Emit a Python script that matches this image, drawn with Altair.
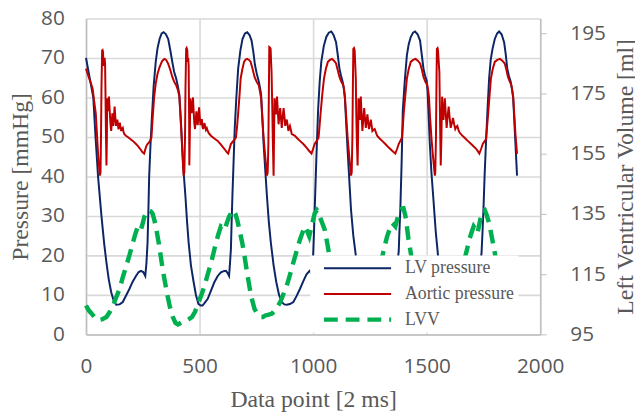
import altair as alt
import pandas as pd

# ---------------- data ----------------
series_names = ["LV pressure", "Aortic pressure", "LVV"]
series_colors = ["#0b2565", "#c00000", "#00b050"]

x_ticks = [0, 500, 1000, 1500, 2000]
p_ticks = [0, 10, 20, 30, 40, 50, 60, 70, 80]
v_ticks = [95, 115, 135, 155, 175, 195]

lv_x = [0, 16, 32, 42, 53, 68, 80, 90, 100, 111, 122, 133, 148, 162, 176, 191, 205, 220, 232, 242,
        252, 261, 266, 271, 275, 278, 284, 290, 298, 307, 315, 324, 333, 342, 352, 362, 371, 380, 388, 397,
        404, 411, 417, 423, 430, 438, 445, 452, 462, 474, 484, 495, 505, 513, 520, 536, 550, 565, 580, 594,
        606, 616, 623, 630, 634, 638, 641, 645, 650, 655, 662, 670, 680, 689, 700, 710, 720, 729, 737, 744,
        752, 761, 767, 771, 777, 782, 790, 797, 805, 814, 826, 838, 850, 862, 873, 884, 898, 913, 927, 942,
        957, 971, 985, 992, 996, 1000, 1004, 1007, 1014, 1022, 1029, 1036, 1047, 1058, 1069, 1080, 1090, 1101, 1108, 1116,
        1123, 1130, 1135, 1140, 1146, 1152, 1160, 1167, 1177, 1188, 1200, 1212, 1224, 1236, 1248, 1262, 1276, 1290, 1305, 1320,
        1335, 1350, 1360, 1366, 1371, 1377, 1380, 1384, 1390, 1395, 1404, 1413, 1421, 1430, 1440, 1449, 1460, 1471, 1478, 1486,
        1493, 1500, 1504, 1509, 1514, 1521, 1529, 1540, 1550, 1562, 1574, 1586, 1598, 1610, 1624, 1638, 1652, 1667, 1682, 1697,
        1712, 1726, 1733, 1738, 1742, 1746, 1750, 1755, 1761, 1768, 1775, 1782, 1790, 1800, 1810, 1819, 1830, 1841, 1848, 1855,
        1862, 1870, 1876, 1881, 1886, 1891, 1898]
lv_p = [70, 65, 60, 50, 40, 30, 23, 18.2, 14, 10.7, 8.5, 7.5, 7.6, 8.2, 9.8, 11.5, 13.3, 14.8, 15.8, 16.1,
        15.8, 14.8, 18, 23.2, 32, 39.8, 48, 54.8, 63, 69, 72.5, 74.8, 76.2, 76.5, 76, 74.8, 72, 69, 66.5, 64.8,
        63, 60.7, 55, 48.2, 41, 34.8, 28.5, 23.2, 17.5, 13.2, 10, 7.75, 7.3, 7.3, 7.8, 9.0, 11, 13.2, 14.8, 15.7,
        16, 16.1, 15.6, 14.8, 18, 21.5, 28, 35.7, 44, 52.3, 60, 67.3, 72, 74.8, 76.2, 76.5, 75.8, 74.4, 71.5, 68.2,
        66, 64, 62.2, 60.7, 54.5, 48.2, 41, 34.8, 28.5, 23.2, 17.5, 13.2, 10, 8.2, 7.6, 7.5, 7.7, 8.2, 9.7, 11.5,
        13.5, 15.2, 16.1, 15.6, 14.8, 19.8, 26, 31.5, 44, 56.8, 64, 69, 73, 75.3, 76.4, 76.7, 75.8, 74, 71, 67.3,
        65.5, 64, 62.3, 59.8, 53, 46.5, 38.5, 31.5, 25, 20, 15.5, 12, 9.5, 8, 7.5, 7.6, 8.2, 9.7, 11.5, 13.5,
        15.2, 16.1, 15.8, 14.8, 18, 21, 26, 31.5, 44, 56.8, 64.5, 70.7, 73.5, 75.3, 76.4, 76.7, 76, 74.4, 71, 67.3,
        65.5, 64.3, 61.5, 55, 48.2, 41, 34.8, 26, 20, 15.5, 12, 9.5, 8, 7.5, 7.6, 8.2, 9.7, 11.5, 13.5, 15.2,
        16.1, 15.7, 14.8, 18, 21, 26, 31.5, 40, 48.2, 57, 64.8, 69.5, 72.3, 74.8, 76.2, 76.7, 76, 74, 71, 67.3,
        65.5, 64, 62, 59.8, 54, 48.2, 40.2]

ao_x = [0, 7, 14, 22, 29, 36, 43, 48, 53, 57, 61, 64, 66, 68, 71, 73, 75, 77, 79, 82,
        84, 86, 88, 90, 92, 93, 95, 97, 99, 101, 104, 107, 109, 111, 114, 116, 118, 120, 123, 126,
        129, 132, 135, 138, 141, 143, 146, 149, 152, 155, 158, 162, 165, 169, 176, 184, 195, 206, 217, 228,
        238, 249, 256, 261, 266, 272, 278, 284, 288, 291, 295, 300, 307, 315, 324, 335, 345, 353, 362, 371,
        380, 388, 397, 404, 411, 416, 420, 425, 430, 433, 436, 438, 441, 443, 446, 448, 450, 452, 454, 455,
        457, 459, 462, 465, 468, 471, 474, 477, 480, 483, 486, 489, 492, 495, 498, 501, 504, 507, 510, 513,
        516, 519, 522, 525, 528, 532, 536, 540, 550, 565, 580, 595, 609, 618, 626, 632, 638, 649, 660, 665,
        670, 676, 681, 688, 696, 703, 710, 718, 725, 733, 742, 751, 761, 766, 771, 777, 782, 790, 797, 800,
        803, 805, 807, 810, 813, 815, 817, 820, 823, 826, 828, 830, 833, 836, 838, 841, 845, 848, 851, 855,
        858, 862, 866, 870, 874, 877, 880, 884, 888, 891, 894, 898, 902, 906, 913, 920, 931, 942, 957, 971,
        982, 993, 1000, 1007, 1016, 1024, 1028, 1033, 1040, 1048, 1056, 1065, 1074, 1083, 1092, 1101, 1108, 1116, 1124, 1133,
        1137, 1140, 1146, 1152, 1160, 1167, 1170, 1173, 1175, 1177, 1180, 1183, 1185, 1188, 1190, 1193, 1196, 1198, 1200, 1203,
        1206, 1208, 1210, 1214, 1217, 1221, 1225, 1228, 1232, 1236, 1239, 1243, 1246, 1250, 1254, 1258, 1261, 1266, 1271, 1276,
        1282, 1293, 1304, 1318, 1333, 1348, 1362, 1370, 1377, 1384, 1391, 1395, 1399, 1406, 1413, 1421, 1430, 1440, 1451, 1461,
        1471, 1479, 1486, 1494, 1503, 1507, 1510, 1515, 1521, 1528, 1536, 1538, 1541, 1543, 1545, 1548, 1550, 1553, 1556, 1558,
        1560, 1562, 1565, 1568, 1571, 1574, 1577, 1580, 1584, 1588, 1592, 1597, 1601, 1606, 1611, 1616, 1621, 1626, 1630, 1635,
        1640, 1645, 1656, 1667, 1681, 1696, 1707, 1718, 1725, 1732, 1740, 1747, 1754, 1761, 1766, 1771, 1777, 1783, 1791, 1800,
        1811, 1823, 1833, 1844, 1851, 1858, 1866, 1873, 1877, 1881, 1886, 1891, 1898]
ao_p = [67.3, 66, 64.8, 63.5, 62.3, 59, 56, 51, 46, 43, 40.2, 41, 50, 62, 71.9, 72, 71.5, 68, 69, 70,
        68.6, 60, 50, 42.8, 50, 59.8, 58, 56.5, 58.5, 60.2, 57, 54, 52.5, 51.5, 54, 56, 54.5, 52.8, 55, 57.7,
        55, 52.8, 53.6, 54.4, 53, 51.9, 52.8, 53.6, 52.5, 51.5, 52, 52.3, 51.3, 50.7, 50.3, 50, 49.5, 49, 48.4, 47.75,
        47, 46.1, 45.8, 46.8, 47.75, 48.3, 48.6, 49.3, 49.8, 52.5, 56, 60, 63.5, 66, 67.7, 69.2, 69.75, 69.5, 68.5, 67,
        65.2, 64, 63.1, 62, 60.2, 55, 51, 45, 40.2, 41, 50, 62, 72.3, 72.5, 71.9, 69, 70, 68, 55, 42.8,
        50, 59.8, 57.5, 56, 58.5, 60, 56.5, 53.5, 52, 54, 56.5, 54.5, 53, 55.5, 57.5, 55, 53, 54, 54.5, 52.5,
        52, 53, 53.5, 52.5, 51.8, 52.2, 51.5, 51, 50.3, 49.6, 49, 48, 47, 46.3, 45.8, 47, 48.2, 49, 49.8, 52.5,
        56, 60.5, 64.8, 67, 69, 69.6, 69.75, 69.5, 69, 67.3, 65.2, 64, 63, 61.5, 59.8, 54, 49.8, 44.5, 40.2, 41,
        48, 60, 72.75, 72.6, 72.3, 69, 66.5, 58, 48, 40.2, 50, 59.8, 57.5, 55.7, 58, 60.2, 56, 53.2, 55, 57.3,
        55, 52.3, 55, 57.3, 55, 52.8, 53.5, 54.4, 53, 51.5, 52.2, 52.8, 51.8, 50.7, 50.5, 50.3, 49.6, 49, 48.2, 47.3,
        46.5, 45.8, 47, 48.2, 49, 49.8, 52.5, 56, 60.5, 64.8, 67.2, 69, 69.5, 69.75, 69.3, 68.6, 67, 65.2, 64, 63.1,
        61.8, 60.2, 55, 49.8, 44.5, 40.2, 41, 50, 62, 72.3, 72.5, 71.9, 69, 64.8, 56, 48, 42.8, 50, 59.8, 57,
        54.3, 57.5, 60.2, 55, 51.5, 54.5, 57.3, 55, 52.3, 54, 55.7, 53.5, 52, 53, 54.4, 52.8, 51.5, 51.8, 52, 51.2,
        50.3, 49.6, 49, 48.2, 47.3, 46.5, 45.8, 47, 48.2, 49, 49.8, 52.5, 56, 60.5, 64.8, 67.2, 69, 69.5, 69.75, 69.3,
        68.6, 67, 65.2, 64, 63.1, 61.6, 60.2, 55, 49.8, 45, 40.2, 41, 50, 62, 72.3, 72.5, 71.9, 69, 66.5, 58,
        50, 42.8, 50, 60.2, 57, 54.3, 57, 59.8, 56, 52.3, 55, 57.7, 55, 52.3, 53.5, 54.8, 53.2, 52, 52.5, 52.8,
        51.8, 51.1, 50.4, 49.8, 49, 48.2, 47.6, 47, 46.4, 45.8, 47, 48.2, 48.8, 49.4, 52.5, 56, 60.5, 64.8, 67.2, 69,
        69.5, 69.75, 69.3, 68.6, 67, 65.2, 64, 63.1, 61.8, 60.2, 55.5, 50.7, 45.7]

lvv_x = [0, 12, 25, 40, 53, 70, 90, 105, 119, 134, 148, 162, 177, 192, 206, 217, 228, 235, 242, 250,
         257, 266, 275, 284, 293, 301, 310, 320, 329, 338, 348, 358, 368, 381, 394, 405, 416, 430, 445, 456,
         467, 480, 496, 510, 522, 536, 551, 562, 572, 583, 594, 603, 611, 620, 630, 640, 649, 658, 666, 677,
         688, 698, 707, 716, 724, 733, 742, 755, 768, 779, 790, 805, 819, 837, 855, 870, 884, 899, 913, 928,
         942, 953, 964, 973, 983, 995, 1007, 1017, 1022, 1030, 1040, 1051, 1062, 1072, 1082, 1092, 1102, 1112, 1125, 1140,
         1155, 1170, 1185, 1200, 1220, 1240, 1260, 1280, 1295, 1305, 1312, 1319, 1326, 1337, 1348, 1355, 1362, 1373, 1384, 1391,
         1398, 1406, 1413, 1420, 1430, 1440, 1450, 1460, 1470, 1482, 1495, 1510, 1525, 1540, 1555, 1570, 1590, 1610, 1630, 1650,
         1665, 1674, 1681, 1688, 1697, 1707, 1715, 1724, 1733, 1742, 1749, 1756, 1765, 1775, 1782, 1789, 1800, 1810, 1820, 1830,
         1842, 1855, 1868, 1882, 1895]
lvv_v = [104.6, 103, 101.9, 100.5, 99.7, 100, 100.8, 102.5, 104.6, 107.5, 110.1, 114, 117.7, 121.5, 125.4, 128.3, 130.9, 130.6, 129.8, 132,
         134.1, 135.5, 136.3, 136, 135.2, 133, 129.8, 125.5, 121, 116.5, 112.3, 108.2, 104.6, 101, 98.8, 98.3, 98.8, 99.4, 99.7, 100.2,
         100.8, 102.5, 105.7, 108.5, 111.2, 115, 118.9, 122.2, 125.4, 128.3, 130.9, 130.5, 129.8, 132, 134.1, 135.5, 136.3, 135, 133, 129.3,
         125.4, 121, 116.6, 112.5, 109, 106, 103.5, 101.8, 100.8, 100.8, 101.3, 101.6, 101.9, 103.5, 105.7, 108.5, 111.2, 115, 118.9, 122.8,
         126.5, 128.8, 130.9, 129.5, 127.6, 131.5, 135.2, 136.3, 135.8, 134, 132, 129.8, 125.4, 121, 116.5, 112, 108, 104.5, 101.8, 100.5,
         100.2, 100.3, 100.8, 101.5, 103.5, 106, 109.5, 114, 118, 121, 123.3, 125.5, 127.6, 130, 132, 131.5, 130.9, 134, 136.3, 136.8,
         136.9, 134.5, 130.9, 126.5, 122.1, 117.5, 113, 109, 105.5, 102.5, 100.8, 100, 99.7, 99.8, 100.2, 101, 103, 106, 110, 115,
         119.5, 122.1, 124.3, 126.5, 128.7, 130.9, 130, 128.7, 132, 135.2, 136, 136.3, 134.5, 132, 129.3, 126.5, 122.1, 117.5, 113, 109.5,
         106, 103.5, 102, 101.5, 101.3]

# ---------------- tables ----------------
pressure = pd.concat([
    pd.DataFrame({"x": lv_x, "value": lv_p, "series": series_names[0]}),
    pd.DataFrame({"x": ao_x, "value": ao_p, "series": series_names[1]}),
], ignore_index=True)
volume = pd.DataFrame({"x": lvv_x, "value": lvv_v, "series": series_names[2]})

GRID = "#d9d9d9"
AXIS = "#bfbfbf"
TEXT = "#595959"

legend = alt.Legend(
    title=None, orient="none", legendX=227, legendY=240, direction="vertical",
    fillColor="white", padding=4, symbolType="stroke", symbolSize=4624,
    symbolOffset=9, labelOffset=13, rowPadding=8, clipHeight=18, zindex=1,
    labelFont="Liberation Serif", labelFontSize=18, labelColor=TEXT, labelLimit=300,
    symbolStrokeWidth=alt.ExprRef("((datum && datum.value === 'LVV') ? 4.5 : 2)"),
    symbolDash=alt.ExprRef("((datum && datum.value === 'LVV') ? [14, 8] : [1, 0])"),
)
color = alt.Color("series:N", scale=alt.Scale(domain=series_names, range=series_colors), legend=legend)

x_enc = alt.X(
    "x:Q", scale=alt.Scale(domain=[0, 2000], nice=False),
    axis=alt.Axis(values=x_ticks, format="d", title="Data point [2 ms]", ticks=False, grid=True,
                  labelFlush=False, labelPadding=22, titlePadding=11),
)

pressure_layer = alt.Chart(pressure).mark_line(strokeWidth=2).encode(
    x=x_enc,
    y=alt.Y("value:Q", scale=alt.Scale(domain=[0, 80], nice=False),
            axis=alt.Axis(values=p_ticks, title="Pressure [mmHg]", ticks=False, grid=True,
                          labelFlush=False, labelPadding=22, titlePadding=8)),
    color=color,
)

volume_layer = alt.Chart(volume).mark_line(strokeWidth=4.5, strokeDash=[14, 8]).encode(
    x=x_enc,
    y=alt.Y("value:Q", scale=alt.Scale(domain=[95, 200], nice=False, zero=False),
            axis=alt.Axis(values=v_ticks, orient="right", title="Left Ventricular Volume [ml]",
                          grid=False, ticks=True, tickSize=6, tickColor=AXIS, labelFlush=False,
                          labelPadding=24, titlePadding=32, titleAngle=270)),
    color=color,
)

chart = alt.layer(pressure_layer, volume_layer).resolve_scale(y="independent").properties(
    width=460, height=320,
    autosize=alt.AutoSizeParams(type="none"),
    padding={"left": 79, "top": 8, "right": 96, "bottom": 76},
).configure_view(strokeWidth=0).configure_axis(
    labelFont="Open Sans", labelFontSize=21, labelColor=TEXT,
    titleFont="Liberation Serif", titleFontSize=24, titleFontWeight="normal", titleColor=TEXT,
    gridColor=GRID, gridWidth=1.6, domainColor=AXIS, domainWidth=1.5,
)

chart.save("out.html", embed_options={"renderer": "svg", "actions": False})
